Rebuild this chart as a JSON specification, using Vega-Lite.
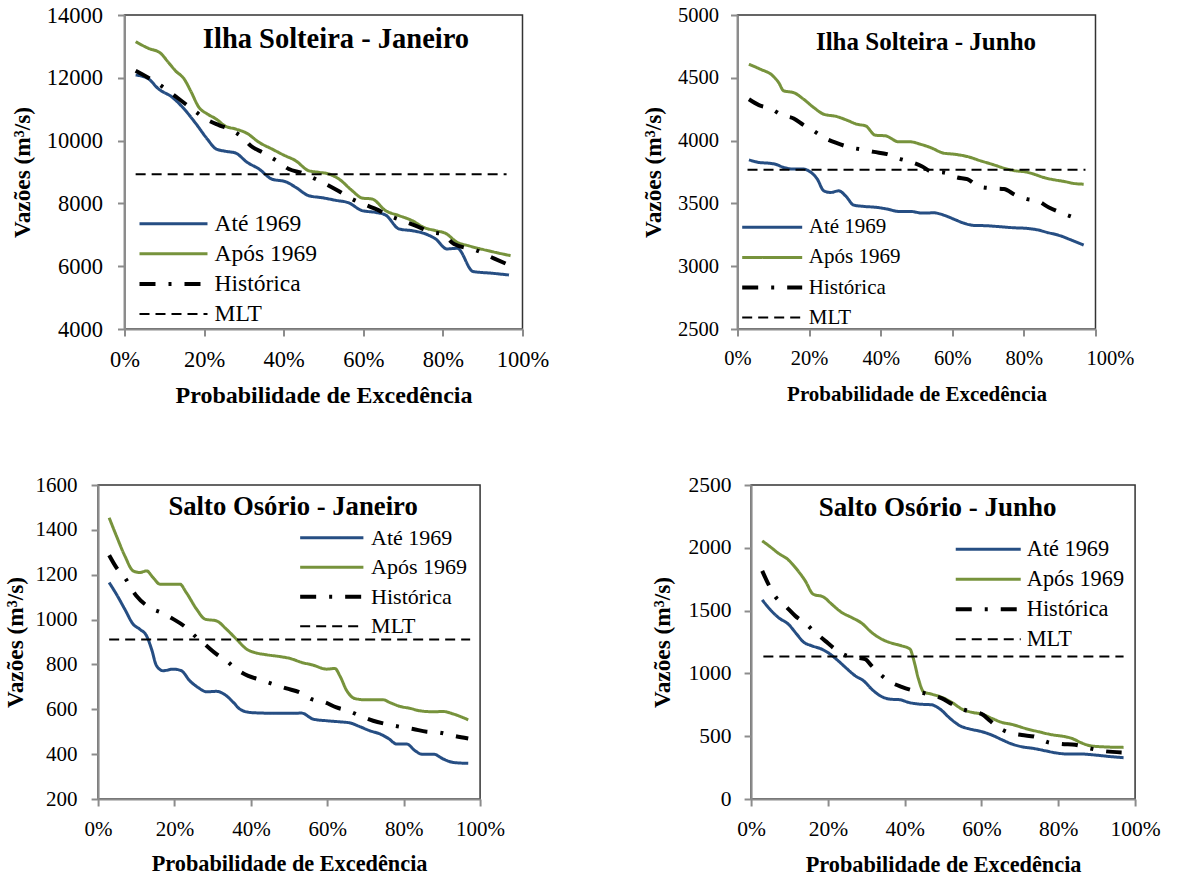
{
  "$schema": "https://vega.github.io/schema/vega-lite/v6.json",
  "background": "white",
  "padding": {"left": 2, "top": 3, "right": 5, "bottom": 0},
  "datasets": {
    "ij": [
      {"s":"Até 1969","p":2.8,"v":12090},{"s":"Até 1969","p":5.8,"v":11985},{"s":"Até 1969","p":8.6,"v":11640},{"s":"Até 1969","p":12,"v":11380},{"s":"Até 1969","p":15,"v":11005},{"s":"Até 1969","p":18,"v":10530},{"s":"Até 1969","p":20.8,"v":10050},{"s":"Até 1969","p":23,"v":9735},{"s":"Até 1969","p":25.4,"v":9660},{"s":"Até 1969","p":27.9,"v":9605},{"s":"Até 1969","p":30.8,"v":9310},{"s":"Até 1969","p":33.8,"v":9095},{"s":"Até 1969","p":37,"v":8775},{"s":"Até 1969","p":40.5,"v":8690},{"s":"Até 1969","p":43,"v":8515},{"s":"Até 1969","p":46.3,"v":8245},{"s":"Até 1969","p":49.7,"v":8180},{"s":"Até 1969","p":53,"v":8100},{"s":"Até 1969","p":56.4,"v":8015},{"s":"Até 1969","p":59.7,"v":7770},{"s":"Até 1969","p":63,"v":7715},{"s":"Até 1969","p":65.6,"v":7630},{"s":"Até 1969","p":69,"v":7185},{"s":"Até 1969","p":72.3,"v":7130},{"s":"Até 1969","p":75.7,"v":7025},{"s":"Até 1969","p":78.2,"v":6865},{"s":"Até 1969","p":81,"v":6550},{"s":"Até 1969","p":83.6,"v":6570},{"s":"Até 1969","p":87.6,"v":5830},{"s":"Até 1969","p":92,"v":5780},{"s":"Até 1969","p":96.6,"v":5720},
      {"s":"Após 1969","p":2.8,"v":13150},{"s":"Após 1969","p":6,"v":12940},{"s":"Após 1969","p":9,"v":12790},{"s":"Após 1969","p":11,"v":12495},{"s":"Após 1969","p":12.8,"v":12225},{"s":"Após 1969","p":15,"v":11960},{"s":"Após 1969","p":16.6,"v":11590},{"s":"Após 1969","p":18.7,"v":11060},{"s":"Após 1969","p":20.8,"v":10850},{"s":"Após 1969","p":23,"v":10690},{"s":"Após 1969","p":25.4,"v":10455},{"s":"Após 1969","p":27.9,"v":10370},{"s":"Após 1969","p":30.8,"v":10230},{"s":"Após 1969","p":33.8,"v":9945},{"s":"Após 1969","p":37,"v":9735},{"s":"Após 1969","p":40,"v":9540},{"s":"Após 1969","p":43,"v":9360},{"s":"Após 1969","p":46.3,"v":9040},{"s":"Após 1969","p":48.8,"v":8990},{"s":"Após 1969","p":51.4,"v":8935},{"s":"Após 1969","p":53.9,"v":8775},{"s":"Após 1969","p":57.2,"v":8405},{"s":"Após 1969","p":59.7,"v":8170},{"s":"Após 1969","p":62.2,"v":8140},{"s":"Após 1969","p":65.6,"v":7770},{"s":"Após 1969","p":69,"v":7610},{"s":"Após 1969","p":72.3,"v":7450},{"s":"Após 1969","p":75.2,"v":7235},{"s":"Após 1969","p":78.2,"v":7130},{"s":"Após 1969","p":80.7,"v":7045},{"s":"Após 1969","p":83.6,"v":6760},{"s":"Após 1969","p":86.5,"v":6650},{"s":"Após 1969","p":93.2,"v":6440},{"s":"Após 1969","p":97,"v":6335},
      {"s":"Histórica","p":2.8,"v":12225},{"s":"Histórica","p":8.6,"v":11800},{"s":"Histórica","p":13.7,"v":11325},{"s":"Histórica","p":17,"v":11005},{"s":"Histórica","p":20.4,"v":10690},{"s":"Histórica","p":23.7,"v":10495},{"s":"Histórica","p":26.2,"v":10370},{"s":"Histórica","p":29.6,"v":10105},{"s":"Histórica","p":31.7,"v":9835},{"s":"Histórica","p":35,"v":9605},{"s":"Histórica","p":38.8,"v":9310},{"s":"Histórica","p":41.3,"v":9095},{"s":"Histórica","p":44.6,"v":8970},{"s":"Histórica","p":48,"v":8775},{"s":"Histórica","p":50.5,"v":8620},{"s":"Histórica","p":53.9,"v":8385},{"s":"Histórica","p":57.2,"v":8140},{"s":"Histórica","p":60.6,"v":7950},{"s":"Histórica","p":63.5,"v":7800},{"s":"Histórica","p":66.4,"v":7610},{"s":"Histórica","p":69.8,"v":7450},{"s":"Histórica","p":73.1,"v":7290},{"s":"Histórica","p":77.3,"v":7080},{"s":"Histórica","p":79.8,"v":7025},{"s":"Histórica","p":82.8,"v":6705},{"s":"Histórica","p":88.2,"v":6515},{"s":"Histórica","p":92.8,"v":6250},{"s":"Histórica","p":96.6,"v":6040},
      {"s":"MLT","p":2.8,"v":8930},{"s":"MLT","p":96,"v":8930}
    ],
    "ijun": [
      {"s":"Até 1969","p":3.2,"v":3847},{"s":"Até 1969","p":6,"v":3826},{"s":"Até 1969","p":8.8,"v":3820},{"s":"Até 1969","p":10.6,"v":3812},{"s":"Até 1969","p":12.9,"v":3786},{"s":"Até 1969","p":15.7,"v":3773},{"s":"Até 1969","p":18.5,"v":3773},{"s":"Até 1969","p":19.9,"v":3759},{"s":"Até 1969","p":22.3,"v":3693},{"s":"Até 1969","p":24.1,"v":3600},{"s":"Até 1969","p":26,"v":3587},{"s":"Até 1969","p":28.3,"v":3600},{"s":"Até 1969","p":30.2,"v":3560},{"s":"Até 1969","p":32.5,"v":3486},{"s":"Até 1969","p":35.3,"v":3476},{"s":"Até 1969","p":39,"v":3468},{"s":"Até 1969","p":41.8,"v":3455},{"s":"Até 1969","p":45.1,"v":3436},{"s":"Até 1969","p":48.3,"v":3436},{"s":"Até 1969","p":51.6,"v":3423},{"s":"Até 1969","p":54.8,"v":3425},{"s":"Até 1969","p":57.6,"v":3407},{"s":"Até 1969","p":60.4,"v":3375},{"s":"Até 1969","p":63.2,"v":3343},{"s":"Até 1969","p":66,"v":3325},{"s":"Até 1969","p":69.7,"v":3322},{"s":"Até 1969","p":73.5,"v":3314},{"s":"Até 1969","p":77.2,"v":3306},{"s":"Até 1969","p":80.9,"v":3301},{"s":"Até 1969","p":83.7,"v":3290},{"s":"Até 1969","p":86.5,"v":3269},{"s":"Até 1969","p":90.2,"v":3242},{"s":"Até 1969","p":93,"v":3211},{"s":"Até 1969","p":96.7,"v":3168},
      {"s":"Após 1969","p":3.2,"v":4608},{"s":"Após 1969","p":6.4,"v":4568},{"s":"Após 1969","p":9.7,"v":4520},{"s":"Após 1969","p":11.5,"v":4462},{"s":"Após 1969","p":12.9,"v":4396},{"s":"Após 1969","p":15.7,"v":4382},{"s":"Após 1969","p":18.5,"v":4329},{"s":"Após 1969","p":21.3,"v":4263},{"s":"Após 1969","p":24.1,"v":4210},{"s":"Após 1969","p":27.8,"v":4191},{"s":"Após 1969","p":30.6,"v":4162},{"s":"Após 1969","p":33.4,"v":4130},{"s":"Após 1969","p":35.8,"v":4117},{"s":"Após 1969","p":38.5,"v":4043},{"s":"Após 1969","p":41.3,"v":4038},{"s":"Após 1969","p":45.1,"v":3990},{"s":"Após 1969","p":48.3,"v":3990},{"s":"Após 1969","p":51.1,"v":3971},{"s":"Após 1969","p":53.9,"v":3945},{"s":"Após 1969","p":57.6,"v":3900},{"s":"Após 1969","p":60.4,"v":3892},{"s":"Após 1969","p":64.2,"v":3873},{"s":"Após 1969","p":67.9,"v":3839},{"s":"Após 1969","p":71.6,"v":3807},{"s":"Após 1969","p":74.4,"v":3781},{"s":"Após 1969","p":77.7,"v":3759},{"s":"Após 1969","p":80.4,"v":3751},{"s":"Após 1969","p":82.8,"v":3733},{"s":"Após 1969","p":85.6,"v":3706},{"s":"Após 1969","p":88.4,"v":3688},{"s":"Após 1969","p":91.2,"v":3675},{"s":"Após 1969","p":93.9,"v":3659},{"s":"Após 1969","p":96.7,"v":3653},
      {"s":"Histórica","p":3.2,"v":4329},{"s":"Histórica","p":6,"v":4282},{"s":"Histórica","p":9.2,"v":4255},{"s":"Histórica","p":12.5,"v":4202},{"s":"Histórica","p":15.7,"v":4176},{"s":"Histórica","p":18.5,"v":4123},{"s":"Histórica","p":21.3,"v":4077},{"s":"Histórica","p":24.1,"v":4024},{"s":"Histórica","p":27.8,"v":3979},{"s":"Histórica","p":31.6,"v":3945},{"s":"Histórica","p":35.3,"v":3926},{"s":"Histórica","p":38.1,"v":3910},{"s":"Histórica","p":41.8,"v":3892},{"s":"Histórica","p":45.1,"v":3857},{"s":"Histórica","p":48.3,"v":3831},{"s":"Histórica","p":51.6,"v":3794},{"s":"Histórica","p":54.4,"v":3751},{"s":"Histórica","p":57.6,"v":3746},{"s":"Histórica","p":61.4,"v":3706},{"s":"Histórica","p":64.2,"v":3693},{"s":"Histórica","p":67.4,"v":3635},{"s":"Histórica","p":71.6,"v":3619},{"s":"Histórica","p":74.4,"v":3614},{"s":"Histórica","p":77.7,"v":3566},{"s":"Histórica","p":80.9,"v":3534},{"s":"Histórica","p":83.7,"v":3521},{"s":"Histórica","p":87,"v":3468},{"s":"Histórica","p":90.2,"v":3428},{"s":"Histórica","p":93.9,"v":3388},{"s":"Histórica","p":96.3,"v":3362},
      {"s":"MLT","p":2.8,"v":3767},{"s":"MLT","p":97.2,"v":3767}
    ],
    "sj": [
      {"s":"Até 1969","p":2.9,"v":1165},{"s":"Até 1969","p":4.8,"v":1113},{"s":"Até 1969","p":7,"v":1046},{"s":"Até 1969","p":9.2,"v":979},{"s":"Até 1969","p":10.9,"v":957},{"s":"Até 1969","p":12.7,"v":927},{"s":"Até 1969","p":14,"v":868},{"s":"Até 1969","p":15.3,"v":794},{"s":"Até 1969","p":17,"v":772},{"s":"Até 1969","p":19.7,"v":779},{"s":"Até 1969","p":21.8,"v":772},{"s":"Até 1969","p":24,"v":727},{"s":"Até 1969","p":26.2,"v":697},{"s":"Até 1969","p":28.4,"v":678},{"s":"Até 1969","p":31,"v":680},{"s":"Até 1969","p":33.6,"v":660},{"s":"Até 1969","p":35.4,"v":631},{"s":"Até 1969","p":37.1,"v":601},{"s":"Até 1969","p":39.7,"v":586},{"s":"Até 1969","p":43.2,"v":583},{"s":"Até 1969","p":46.7,"v":582},{"s":"Até 1969","p":50.2,"v":582},{"s":"Até 1969","p":53.3,"v":583},{"s":"Até 1969","p":56.3,"v":556},{"s":"Até 1969","p":59.8,"v":549},{"s":"Até 1969","p":63.3,"v":544},{"s":"Até 1969","p":66,"v":539},{"s":"Até 1969","p":68.6,"v":522},{"s":"Até 1969","p":71.2,"v":504},{"s":"Até 1969","p":73.8,"v":490},{"s":"Até 1969","p":76,"v":470},{"s":"Até 1969","p":78.2,"v":445},{"s":"Até 1969","p":80.8,"v":445},{"s":"Até 1969","p":83,"v":415},{"s":"Até 1969","p":84.7,"v":400},{"s":"Até 1969","p":87.8,"v":400},{"s":"Até 1969","p":90.4,"v":378},{"s":"Até 1969","p":93,"v":363},{"s":"Até 1969","p":96.9,"v":359},
      {"s":"Após 1969","p":2.9,"v":1454},{"s":"Após 1969","p":4.8,"v":1373},{"s":"Após 1969","p":7,"v":1284},{"s":"Após 1969","p":9.2,"v":1217},{"s":"Após 1969","p":10.9,"v":1210},{"s":"Após 1969","p":12.7,"v":1217},{"s":"Após 1969","p":14.4,"v":1187},{"s":"Após 1969","p":16.2,"v":1158},{"s":"Após 1969","p":18.3,"v":1158},{"s":"Após 1969","p":21.4,"v":1158},{"s":"Após 1969","p":23.1,"v":1120},{"s":"Após 1969","p":25.8,"v":1046},{"s":"Após 1969","p":28,"v":1002},{"s":"Após 1969","p":31,"v":994},{"s":"Após 1969","p":33.6,"v":957},{"s":"Após 1969","p":36.2,"v":913},{"s":"Após 1969","p":38.9,"v":868},{"s":"Após 1969","p":41,"v":853},{"s":"Após 1969","p":44.1,"v":843},{"s":"Após 1969","p":47.6,"v":835},{"s":"Após 1969","p":50.2,"v":827},{"s":"Após 1969","p":53.3,"v":809},{"s":"Após 1969","p":56.3,"v":797},{"s":"Após 1969","p":59.8,"v":779},{"s":"Após 1969","p":62,"v":782},{"s":"Após 1969","p":63.3,"v":749},{"s":"Após 1969","p":65.1,"v":683},{"s":"Após 1969","p":67.2,"v":648},{"s":"Após 1969","p":70.3,"v":642},{"s":"Após 1969","p":74.7,"v":642},{"s":"Após 1969","p":76.4,"v":630},{"s":"Após 1969","p":79,"v":613},{"s":"Após 1969","p":81.7,"v":604},{"s":"Após 1969","p":84.3,"v":593},{"s":"Após 1969","p":87.8,"v":589},{"s":"Após 1969","p":90.4,"v":590},{"s":"Após 1969","p":93,"v":579},{"s":"Após 1969","p":96.9,"v":553},
      {"s":"Histórica","p":2.9,"v":1287},{"s":"Histórica","p":4.8,"v":1232},{"s":"Histórica","p":7,"v":1187},{"s":"Histórica","p":10,"v":1106},{"s":"Histórica","p":13.5,"v":1054},{"s":"Histórica","p":17,"v":1028},{"s":"Histórica","p":19.7,"v":1002},{"s":"Histórica","p":22.7,"v":969},{"s":"Histórica","p":25.8,"v":920},{"s":"Histórica","p":28.4,"v":883},{"s":"Histórica","p":31,"v":846},{"s":"Histórica","p":33.6,"v":816},{"s":"Histórica","p":36.2,"v":779},{"s":"Histórica","p":39.3,"v":749},{"s":"Histórica","p":42.4,"v":732},{"s":"Histórica","p":45.9,"v":712},{"s":"Histórica","p":49.3,"v":693},{"s":"Histórica","p":52.8,"v":675},{"s":"Histórica","p":55.9,"v":645},{"s":"Histórica","p":59.4,"v":631},{"s":"Histórica","p":62.4,"v":608},{"s":"Histórica","p":65.5,"v":593},{"s":"Histórica","p":68.6,"v":571},{"s":"Histórica","p":72,"v":549},{"s":"Histórica","p":75.5,"v":534},{"s":"Histórica","p":79,"v":522},{"s":"Histórica","p":82.5,"v":512},{"s":"Histórica","p":86,"v":500},{"s":"Histórica","p":89.1,"v":497},{"s":"Histórica","p":93,"v":482},{"s":"Histórica","p":96.9,"v":470},
      {"s":"MLT","p":2.9,"v":911},{"s":"MLT","p":97.4,"v":911}
    ],
    "sjun": [
      {"s":"Até 1969","p":2.9,"v":1585},{"s":"Até 1969","p":4.9,"v":1511},{"s":"Até 1969","p":7.1,"v":1445},{"s":"Até 1969","p":9.7,"v":1392},{"s":"Até 1969","p":11.9,"v":1312},{"s":"Até 1969","p":13.6,"v":1251},{"s":"Até 1969","p":15.8,"v":1220},{"s":"Até 1969","p":18.4,"v":1193},{"s":"Até 1969","p":20.6,"v":1153},{"s":"Até 1969","p":22.7,"v":1100},{"s":"Até 1969","p":24.9,"v":1039},{"s":"Até 1969","p":27.1,"v":981},{"s":"Até 1969","p":29.3,"v":941},{"s":"Até 1969","p":31.4,"v":875},{"s":"Até 1969","p":33.6,"v":822},{"s":"Até 1969","p":36.2,"v":795},{"s":"Até 1969","p":38.8,"v":790},{"s":"Até 1969","p":41,"v":769},{"s":"Até 1969","p":43.6,"v":756},{"s":"Até 1969","p":47,"v":750},{"s":"Até 1969","p":49.2,"v":716},{"s":"Até 1969","p":51.8,"v":642},{"s":"Até 1969","p":54.4,"v":583},{"s":"Até 1969","p":57,"v":557},{"s":"Até 1969","p":60.1,"v":536},{"s":"Até 1969","p":62.7,"v":509},{"s":"Até 1969","p":65.3,"v":472},{"s":"Até 1969","p":67.9,"v":438},{"s":"Até 1969","p":70.5,"v":416},{"s":"Até 1969","p":73.5,"v":403},{"s":"Até 1969","p":76.6,"v":384},{"s":"Até 1969","p":79.6,"v":366},{"s":"Até 1969","p":82.6,"v":358},{"s":"Até 1969","p":86.1,"v":358},{"s":"Até 1969","p":89.6,"v":350},{"s":"Até 1969","p":93.1,"v":339},{"s":"Até 1969","p":97,"v":329},
      {"s":"Após 1969","p":2.9,"v":2055},{"s":"Após 1969","p":4.9,"v":2010},{"s":"Após 1969","p":7.1,"v":1957},{"s":"Após 1969","p":9.7,"v":1904},{"s":"Após 1969","p":11.9,"v":1829},{"s":"Após 1969","p":14.1,"v":1737},{"s":"Após 1969","p":16.2,"v":1630},{"s":"Após 1969","p":18.8,"v":1609},{"s":"Após 1969","p":21,"v":1551},{"s":"Após 1969","p":23.6,"v":1485},{"s":"Após 1969","p":26.2,"v":1445},{"s":"Após 1969","p":28.8,"v":1400},{"s":"Após 1969","p":31.4,"v":1326},{"s":"Após 1969","p":34,"v":1273},{"s":"Após 1969","p":36.6,"v":1241},{"s":"Após 1969","p":39.2,"v":1220},{"s":"Após 1969","p":41.4,"v":1193},{"s":"Após 1969","p":42.3,"v":1113},{"s":"Após 1969","p":43.6,"v":955},{"s":"Após 1969","p":44.9,"v":854},{"s":"Após 1969","p":47,"v":835},{"s":"Após 1969","p":49.7,"v":809},{"s":"Após 1969","p":52.3,"v":769},{"s":"Após 1969","p":54.9,"v":716},{"s":"Após 1969","p":57.5,"v":690},{"s":"Após 1969","p":60.1,"v":676},{"s":"Após 1969","p":62.7,"v":642},{"s":"Após 1969","p":65.3,"v":610},{"s":"Após 1969","p":67.9,"v":594},{"s":"Após 1969","p":71.4,"v":562},{"s":"Após 1969","p":74.8,"v":536},{"s":"Após 1969","p":78.3,"v":512},{"s":"Após 1969","p":81.8,"v":496},{"s":"Após 1969","p":83.5,"v":483},{"s":"Após 1969","p":86.1,"v":446},{"s":"Após 1969","p":88.3,"v":424},{"s":"Após 1969","p":91.3,"v":416},{"s":"Após 1969","p":97,"v":411},
      {"s":"Histórica","p":2.9,"v":1816},{"s":"Histórica","p":4.5,"v":1710},{"s":"Histórica","p":6.3,"v":1612},{"s":"Histórica","p":8.9,"v":1538},{"s":"Histórica","p":11.5,"v":1458},{"s":"Histórica","p":14.1,"v":1400},{"s":"Histórica","p":16.7,"v":1326},{"s":"Histórica","p":19.3,"v":1259},{"s":"Histórica","p":21.9,"v":1193},{"s":"Histórica","p":24.5,"v":1145},{"s":"Histórica","p":27.1,"v":1127},{"s":"Histórica","p":29.7,"v":1114},{"s":"Histórica","p":31.4,"v":1060},{"s":"Histórica","p":33.6,"v":994},{"s":"Histórica","p":36.2,"v":933},{"s":"Histórica","p":39.2,"v":893},{"s":"Histórica","p":41.8,"v":867},{"s":"Histórica","p":44.4,"v":848},{"s":"Histórica","p":47,"v":827},{"s":"Histórica","p":49.7,"v":801},{"s":"Histórica","p":52.3,"v":756},{"s":"Histórica","p":54.9,"v":716},{"s":"Histórica","p":57.5,"v":695},{"s":"Histórica","p":60.1,"v":676},{"s":"Histórica","p":62.2,"v":623},{"s":"Histórica","p":64.4,"v":570},{"s":"Histórica","p":67,"v":530},{"s":"Histórica","p":70.5,"v":509},{"s":"Histórica","p":73.9,"v":496},{"s":"Histórica","p":77.4,"v":451},{"s":"Histórica","p":80.9,"v":438},{"s":"Histórica","p":84.4,"v":432},{"s":"Histórica","p":87.8,"v":406},{"s":"Histórica","p":91.3,"v":384},{"s":"Histórica","p":96.5,"v":371},
      {"s":"MLT","p":3.2,"v":1135},{"s":"MLT","p":97,"v":1135}
    ]
  },
  "center": true,
  "spacing": 65,
  "vconcat": [
    {
      "spacing": 91,
      "resolve": {"scale": {"x": "independent", "y": "independent", "color": "independent", "strokeDash": "independent"}, "legend": {"color": "independent", "strokeDash": "independent"}},
      "hconcat": [
        {
          "width": 398, "height": 314,
          "data": {"name": "ij"},
          "title": {"text": "Ilha Solteira - Janeiro", "frame": "group", "anchor": "middle", "baseline": "alphabetic", "offset": -72, "dx": 12.5, "fontSize": 28.5},
          "mark": {"type": "line", "interpolate": "monotone", "strokeJoin": "round"},
          "encoding": {
            "x": {"field": "p", "type": "quantitative", "scale": {"domain": [0, 100], "nice": false},
                  "axis": {"title": "Probabilidade de Excedência", "values": [0, 20, 40, 60, 80, 100], "labelExpr": "datum.value + '%'", "labelFontSize": 22.5, "labelPadding": 12, "titleFontSize": 24, "titlePadding": 12.5}},
            "y": {"field": "v", "type": "quantitative", "scale": {"domain": [4000, 14000], "nice": false},
                  "axis": {"title": "Vazões (m³/s)", "format": "d", "values": [4000, 6000, 8000, 10000, 12000, 14000], "labelFontSize": 22.5, "labelPadding": 15, "titleFontSize": 23.3, "titlePadding": 12, "minExtent": 78, "maxExtent": 78}},
            "color": {"field": "s", "type": "nominal", "scale": {"domain": ["Até 1969", "Após 1969", "Histórica", "MLT"], "range": ["#264E83", "#77933C", "#000000", "#000000"]},
                      "legend": {"title": null, "orient": "none", "legendX": 37.25, "legendY": 197, "symbolType": "M-4,0H4", "symbolSize": 289, "labelFontSize": 23.5, "labelOffset": 29.25, "rowPadding": 5.1, "padding": 0, "labelLimit": 400, "encode": {"symbols": {"update": {"strokeWidth": {"signal": "datum.value === 'Histórica' ? 4 : datum.value === 'MLT' ? 2 : 3"}}}}}},
            "strokeDash": {"field": "s", "type": "nominal", "scale": {"domain": ["Até 1969", "Após 1969", "Histórica", "MLT"], "range": [[1, 0], [1, 0], [16, 13, 3, 13], [10, 6]]},
                      "legend": {"title": null, "orient": "none", "legendX": 37.25, "legendY": 197, "symbolType": "M-4,0H4", "symbolSize": 289, "labelFontSize": 23.5, "labelOffset": 29.25, "rowPadding": 5.1, "padding": 0, "labelLimit": 400, "encode": {"symbols": {"update": {"strokeWidth": {"signal": "datum.value === 'Histórica' ? 4 : datum.value === 'MLT' ? 2 : 3"}}}}}},
            "strokeWidth": {"condition": [{"test": "datum.s === 'Histórica'", "value": 4}, {"test": "datum.s === 'MLT'", "value": 2}], "value": 3}
          }
        },
        {
          "width": 358, "height": 314,
          "data": {"name": "ijun"},
          "title": {"text": "Ilha Solteira - Junho", "frame": "group", "anchor": "middle", "baseline": "alphabetic", "offset": -70, "dx": 9.5, "fontSize": 25},
          "mark": {"type": "line", "interpolate": "monotone", "strokeJoin": "round"},
          "encoding": {
            "x": {"field": "p", "type": "quantitative", "scale": {"domain": [0, 100], "nice": false},
                  "axis": {"title": "Probabilidade de Excedência", "values": [0, 20, 40, 60, 80, 100], "labelExpr": "datum.value === 100 ? '100%\u2002\u2002\u2009\u2009' : datum.value + '%'", "labelOffset": {"condition": {"test": "datum.value === 100", "value": 14.35}, "value": 0}, "labelOverlap": false, "labelFontSize": 20.5, "labelPadding": 12, "titleFontSize": 21, "titlePadding": 14.5}},
            "y": {"field": "v", "type": "quantitative", "scale": {"domain": [2500, 5000], "nice": false},
                  "axis": {"title": "Vazões (m³/s)", "format": "d", "values": [2500, 3000, 3500, 4000, 4500, 5000], "labelFontSize": 20.5, "labelPadding": 12, "titleFontSize": 23.3, "titlePadding": 12, "minExtent": 60, "maxExtent": 60}},
            "color": {"field": "s", "type": "nominal", "scale": {"domain": ["Até 1969", "Após 1969", "Histórica", "MLT"], "range": ["#264E83", "#77933C", "#000000", "#000000"]},
                      "legend": {"title": null, "orient": "none", "legendX": 24.2, "legendY": 201.8, "symbolType": "M-4,0H4", "symbolSize": 225, "labelFontSize": 21, "labelOffset": 26.1, "rowPadding": 8.1, "padding": 0, "labelLimit": 400, "encode": {"symbols": {"update": {"strokeWidth": {"signal": "datum.value === 'Histórica' ? 4 : datum.value === 'MLT' ? 2 : 3"}}}}}},
            "strokeDash": {"field": "s", "type": "nominal", "scale": {"domain": ["Até 1969", "Após 1969", "Histórica", "MLT"], "range": [[1, 0], [1, 0], [16, 13, 3, 13], [10, 6]]},
                      "legend": {"title": null, "orient": "none", "legendX": 24.2, "legendY": 201.8, "symbolType": "M-4,0H4", "symbolSize": 225, "labelFontSize": 21, "labelOffset": 26.1, "rowPadding": 8.1, "padding": 0, "labelLimit": 400, "encode": {"symbols": {"update": {"strokeWidth": {"signal": "datum.value === 'Histórica' ? 4 : datum.value === 'MLT' ? 2 : 3"}}}}}},
            "strokeWidth": {"condition": [{"test": "datum.s === 'Histórica'", "value": 4}, {"test": "datum.s === 'MLT'", "value": 2}], "value": 3}
          }
        }
      ]
    },
    {
      "spacing": 143,
      "resolve": {"scale": {"x": "independent", "y": "independent", "color": "independent", "strokeDash": "independent"}, "legend": {"color": "independent", "strokeDash": "independent"}},
      "hconcat": [
        {
          "width": 382, "height": 314,
          "data": {"name": "sj"},
          "title": {"text": "Salto Osório - Janeiro", "frame": "group", "anchor": "middle", "baseline": "alphabetic", "offset": -67.5, "dx": 4, "fontSize": 26.7},
          "mark": {"type": "line", "interpolate": "monotone", "strokeJoin": "round"},
          "encoding": {
            "x": {"field": "p", "type": "quantitative", "scale": {"domain": [0, 100], "nice": false},
                  "axis": {"title": "Probabilidade de Excedência", "values": [0, 20, 40, 60, 80, 100], "labelExpr": "datum.value + '%'", "labelFontSize": 21, "labelPadding": 12, "titleFontSize": 22.3, "titlePadding": 13.8}},
            "y": {"field": "v", "type": "quantitative", "scale": {"domain": [200, 1600], "nice": false},
                  "axis": {"title": "Vazões (m³/s)", "format": "d", "values": [200, 400, 600, 800, 1000, 1200, 1400, 1600], "labelFontSize": 21, "labelPadding": 14, "titleFontSize": 23.3, "titlePadding": 7.5, "minExtent": 63, "maxExtent": 63}},
            "color": {"field": "s", "type": "nominal", "scale": {"domain": ["Até 1969", "Após 1969", "Histórica", "MLT"], "range": ["#264E83", "#77933C", "#000000", "#000000"]},
                      "legend": {"title": null, "orient": "none", "legendX": 222.7, "legendY": 41.7, "symbolType": "M-4,0H4", "symbolSize": 250, "labelFontSize": 22, "labelOffset": 28.3, "rowPadding": 7.5, "padding": 0, "labelLimit": 400, "encode": {"symbols": {"update": {"strokeWidth": {"signal": "datum.value === 'Histórica' ? 4 : datum.value === 'MLT' ? 2 : 3"}}}}}},
            "strokeDash": {"field": "s", "type": "nominal", "scale": {"domain": ["Até 1969", "Após 1969", "Histórica", "MLT"], "range": [[1, 0], [1, 0], [16, 13, 3, 13], [10, 6]]},
                      "legend": {"title": null, "orient": "none", "legendX": 222.7, "legendY": 41.7, "symbolType": "M-4,0H4", "symbolSize": 250, "labelFontSize": 22, "labelOffset": 28.3, "rowPadding": 7.5, "padding": 0, "labelLimit": 400, "encode": {"symbols": {"update": {"strokeWidth": {"signal": "datum.value === 'Histórica' ? 4 : datum.value === 'MLT' ? 2 : 3"}}}}}},
            "strokeWidth": {"condition": [{"test": "datum.s === 'Histórica'", "value": 4}, {"test": "datum.s === 'MLT'", "value": 2}], "value": 3}
          }
        },
        {
          "width": 384, "height": 314,
          "data": {"name": "sjun"},
          "title": {"text": "Salto Osório - Junho", "frame": "group", "anchor": "middle", "baseline": "alphabetic", "offset": -69.2, "dx": -5.5, "fontSize": 27},
          "mark": {"type": "line", "interpolate": "monotone", "strokeJoin": "round"},
          "encoding": {
            "x": {"field": "p", "type": "quantitative", "scale": {"domain": [0, 100], "nice": false},
                  "axis": {"title": "Probabilidade de Excedência", "values": [0, 20, 40, 60, 80, 100], "labelExpr": "datum.value + '%'", "labelFontSize": 21.5, "labelPadding": 12, "titleFontSize": 22.3, "titlePadding": 13.5}},
            "y": {"field": "v", "type": "quantitative", "scale": {"domain": [0, 2500], "nice": false},
                  "axis": {"title": "Vazões (m³/s)", "format": "d", "values": [0, 500, 1000, 1500, 2000, 2500], "labelFontSize": 21.5, "labelPadding": 13, "titleFontSize": 23.3, "titlePadding": 14, "minExtent": 63, "maxExtent": 63}},
            "color": {"field": "s", "type": "nominal", "scale": {"domain": ["Até 1969", "Após 1969", "Histórica", "MLT"], "range": ["#264E83", "#77933C", "#000000", "#000000"]},
                      "legend": {"title": null, "orient": "none", "legendX": 226, "legendY": 53.2, "symbolType": "M-4,0H4", "symbolSize": 264, "labelFontSize": 22.3, "labelOffset": 27.4, "rowPadding": 7, "padding": 0, "labelLimit": 400, "encode": {"symbols": {"update": {"strokeWidth": {"signal": "datum.value === 'Histórica' ? 4 : datum.value === 'MLT' ? 2 : 3"}}}}}},
            "strokeDash": {"field": "s", "type": "nominal", "scale": {"domain": ["Até 1969", "Após 1969", "Histórica", "MLT"], "range": [[1, 0], [1, 0], [16, 13, 3, 13], [10, 6]]},
                      "legend": {"title": null, "orient": "none", "legendX": 226, "legendY": 53.2, "symbolType": "M-4,0H4", "symbolSize": 264, "labelFontSize": 22.3, "labelOffset": 27.4, "rowPadding": 7, "padding": 0, "labelLimit": 400, "encode": {"symbols": {"update": {"strokeWidth": {"signal": "datum.value === 'Histórica' ? 4 : datum.value === 'MLT' ? 2 : 3"}}}}}},
            "strokeWidth": {"condition": [{"test": "datum.s === 'Histórica'", "value": 4}, {"test": "datum.s === 'MLT'", "value": 2}], "value": 3}
          }
        }
      ]
    }
  ],
  "resolve": {"scale": {"x": "independent", "y": "independent", "color": "independent", "strokeDash": "independent"}, "legend": {"color": "independent", "strokeDash": "independent"}},
  "config": {
    "font": "Liberation Serif",
    "view": {"stroke": "#333333", "strokeWidth": 1.5},
    "title": {"font": "Liberation Serif", "fontWeight": "bold", "color": "#000000"},
    "axis": {"grid": false, "labelFlush": false, "domainColor": "#8c8c8c", "domainWidth": 2, "tickColor": "#8c8c8c", "tickWidth": 2, "tickSize": 7, "labelColor": "#000000", "titleColor": "#000000", "labelFont": "Liberation Serif", "titleFont": "Liberation Serif", "titleFontWeight": "bold"},
    "legend": {"labelFont": "Liberation Serif", "labelColor": "#000000"}
  }
}
